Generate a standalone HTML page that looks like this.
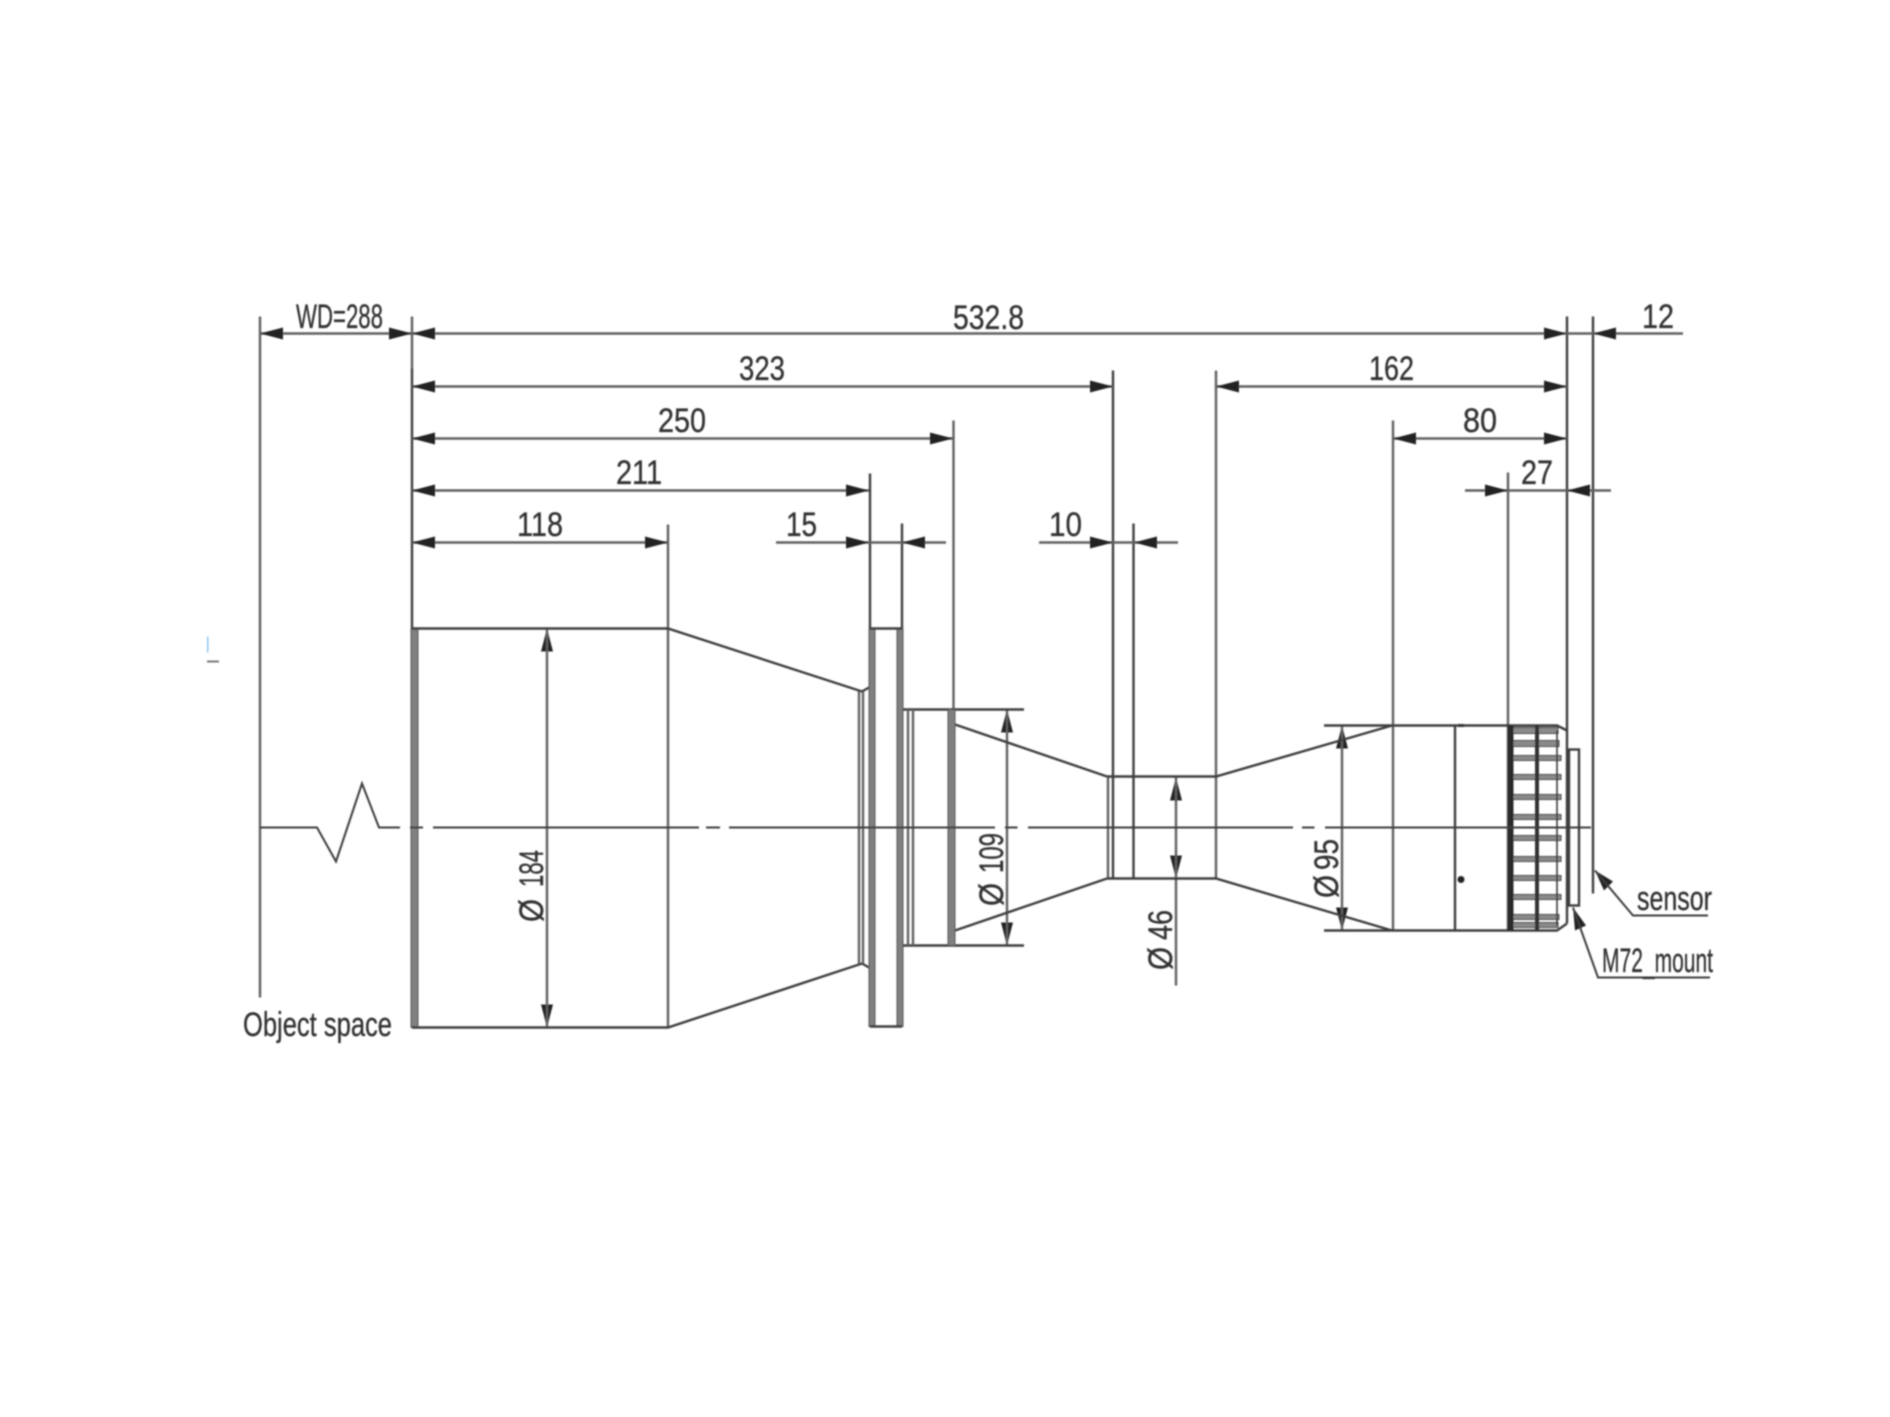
<!DOCTYPE html>
<html><head><meta charset="utf-8"><style>
html,body{margin:0;padding:0;background:#fff;width:1890px;height:1417px;overflow:hidden}
svg{display:block}
text{font-family:"Liberation Sans",sans-serif;font-size:34px;fill:#333;stroke:#333;stroke-width:.35}
.a{fill:#222;stroke:none}
.l{stroke:#3c3c3c;stroke-width:2.4;fill:none}
.d{stroke:#606060;stroke-width:2.4;fill:none}
.t{fill:#808080;stroke:#555;stroke-width:1}
</style></head><body>
<svg width="1890" height="1417" viewBox="0 0 1890 1417" xmlns="http://www.w3.org/2000/svg">
<defs><filter id="b" x="0" y="0" width="1890" height="1417" filterUnits="userSpaceOnUse"><feGaussianBlur stdDeviation="0.8"/></filter></defs>
<rect width="1890" height="1417" fill="#fff"/>
<g filter="url(#b)">
<g transform="translate(0 .5)">
<!-- extension lines -->
<path class="d" d="M260 316V997M412 316V368M668 524V1027M953.5 420V709M1216 370V878M1393 420V930M1508 472V930"/>
<path class="l" d="M412 368V628M870 473V628M902 523V628M1113 370V878M1133.500 523V878M1567 316V923M1593 316V893"/>
<!-- dimension lines -->
<path class="d" d="M260 333H1683M412 386H1113M1216 386H1567M412 438H953M1393 438H1567M412 490H869M1465 490H1611M412 542H668M776 542H946M1039 542H1178"/>
<!-- arrowheads horizontal -->
<g class="a">
<polygon points="260,333 283,327 283,339"/><polygon points="412,333 389,327 389,339"/>
<polygon points="412,333 435,327 435,339"/><polygon points="1567,333 1544,327 1544,339"/>
<polygon points="1593,333 1616,327 1616,339"/>
<polygon points="412,386 435,380 435,392"/><polygon points="1113,386 1090,380 1090,392"/>
<polygon points="1216,386 1239,380 1239,392"/><polygon points="1567,386 1544,380 1544,392"/>
<polygon points="412,438 435,432 435,444"/><polygon points="953,438 930,432 930,444"/>
<polygon points="1393,438 1416,432 1416,444"/><polygon points="1567,438 1544,432 1544,444"/>
<polygon points="412,490 435,484 435,496"/><polygon points="869,490 846,484 846,496"/>
<polygon points="1508,490 1485,484 1485,496"/><polygon points="1567,490 1590,484 1590,496"/>
<polygon points="412,542 435,536 435,548"/><polygon points="668,542 645,536 645,548"/>
<polygon points="869,542 846,536 846,548"/><polygon points="902,542 925,536 925,548"/>
<polygon points="1113,542 1090,536 1090,548"/><polygon points="1134,542 1157,536 1157,548"/>
<!-- vertical -->
<polygon points="547,628 541,651 553,651"/><polygon points="547,1027 541,1004 553,1004"/>
<polygon points="1007,709 1001,732 1013,732"/><polygon points="1007,945 1001,922 1013,922"/>
<polygon points="1176,777 1170,800 1182,800"/><polygon points="1176,878 1170,855 1182,855"/>
<polygon points="1342,725 1336,748 1348,748"/><polygon points="1342,930 1336,907 1348,907"/>
<!-- leaders -->
<polygon points="1595,870 1613,881 1604,890"/><polygon points="1573,907 1586,925 1575,930"/>
</g>
<path class="d" d="M547 628V1027M1007 709V945M1176 777V985M1342 725V930"/>
<path class="l" style="stroke-width:2" d="M1595 870L1633 915H1708M1573 907L1598 977H1710"/>
<!-- barrel -->
<rect class="t" x="411" y="628" width="7" height="399"/>
<path class="l" d="M412 628H668L862 691L869 687M412 1027H668L862 963L869 967"/>
<!-- flange -->
<path class="d" d="M859 691V963M863 691V963"/>
<rect class="t" x="869" y="628" width="6" height="398"/>
<rect class="t" x="897" y="628" width="6" height="398"/>
<path class="l" d="M870 628H902M870 1026H902"/>
<!-- neck -->
<path class="l" d="M903 709H1024M903 945H1024M955 724L1107 776M955 930L1107 878"/>
<path class="d" d="M908 709V945M913 709V945"/>
<rect class="t" x="948" y="709" width="7" height="236"/>
<!-- mid section -->
<path class="d" d="M1108 776V878"/>
<path class="l" d="M1107 776H1216L1392 725M1107 878H1216L1392 930"/>
<!-- rear body -->
<path class="l" d="M1324 725H1557L1567 730M1324 930H1557L1567 923M1455 725V930"/>
<rect x="1458" y="723.500" width="6" height="3" fill="#333"/>
<circle cx="1461" cy="879" r="3.5" fill="#222"/>
<!-- knurl -->
<g fill="#8a8a8a" stroke="#444" stroke-width="1">
<rect x="1513" y="727" width="45" height="6"/><rect x="1513" y="740" width="46" height="6"/><rect x="1513" y="755" width="48" height="5"/><rect x="1513" y="774" width="48" height="5"/><rect x="1513" y="794" width="48" height="5"/><rect x="1513" y="814" width="48" height="5"/><rect x="1513" y="835" width="48" height="5"/><rect x="1513" y="856" width="48" height="5"/><rect x="1513" y="875" width="48" height="5"/><rect x="1513" y="894" width="48" height="5"/><rect x="1513" y="914" width="46" height="5"/><rect x="1513" y="922" width="45" height="5"/>
</g>
<path class="l" style="stroke-width:1.6" d="M1557 730V925"/>
<rect x="1507.500" y="725" width="6" height="205" fill="#2c2c2c"/>
<rect x="1535" y="725" width="4" height="205" fill="#333"/>
<rect class="l" x="1569" y="749" width="10" height="156"/>
<!-- centre line -->
<path class="l" style="stroke-width:2" d="M260 827H317L336 861L362 783L379 827H400M410 827H423M433 827H699M706 827H720M729 827H995M1005 827H1017.500M1028 827H1293M1302 827H1314.500M1325 827H1591"/>
<!-- stray mark -->
<rect x="207" y="660" width="12" height="2" fill="#777"/>
<rect x="207" y="636" width="1.5" height="16" fill="#8cc4ee"/>
</g>
<!-- text -->
<text x="296" y="328" textLength="87" lengthAdjust="spacingAndGlyphs">WD=288</text>
<text x="953" y="329" textLength="71" lengthAdjust="spacingAndGlyphs">532.8</text>
<text x="1642" y="328" textLength="32" lengthAdjust="spacingAndGlyphs">12</text>
<text x="739" y="380" textLength="46" lengthAdjust="spacingAndGlyphs">323</text>
<text x="1369" y="380" textLength="45" lengthAdjust="spacingAndGlyphs">162</text>
<text x="658" y="432" textLength="48" lengthAdjust="spacingAndGlyphs">250</text>
<text x="1463" y="432" textLength="34" lengthAdjust="spacingAndGlyphs">80</text>
<text x="616" y="484" textLength="46" lengthAdjust="spacingAndGlyphs">211</text>
<text x="1521" y="484" textLength="32" lengthAdjust="spacingAndGlyphs">27</text>
<text x="517" y="536" textLength="46" lengthAdjust="spacingAndGlyphs">118</text>
<text x="786" y="536" textLength="31" lengthAdjust="spacingAndGlyphs">15</text>
<text x="1049" y="536" textLength="33" lengthAdjust="spacingAndGlyphs">10</text>
<text x="243" y="1036" textLength="149" lengthAdjust="spacingAndGlyphs">Object space</text>
<text x="1637" y="910" textLength="75" lengthAdjust="spacingAndGlyphs">sensor</text>
<text x="1602" y="972" textLength="111" lengthAdjust="spacingAndGlyphs">M72_mount</text>
<text transform="translate(543 887) rotate(-90)" textLength="37" lengthAdjust="spacingAndGlyphs">184</text>
<text transform="translate(543 922) rotate(-90)" textLength="23" lengthAdjust="spacingAndGlyphs">Ø</text>
<text transform="translate(1003 873) rotate(-90)" textLength="40" lengthAdjust="spacingAndGlyphs">109</text>
<text transform="translate(1003 906) rotate(-90)" textLength="23" lengthAdjust="spacingAndGlyphs">Ø</text>
<text transform="translate(1172 940) rotate(-90)" textLength="30" lengthAdjust="spacingAndGlyphs">46</text>
<text transform="translate(1172 970) rotate(-90)" textLength="23" lengthAdjust="spacingAndGlyphs">Ø</text>
<text transform="translate(1338 870) rotate(-90)" textLength="31" lengthAdjust="spacingAndGlyphs">95</text>
<text transform="translate(1338 898) rotate(-90)" textLength="23" lengthAdjust="spacingAndGlyphs">Ø</text>
</g>
</svg>
</body></html>
